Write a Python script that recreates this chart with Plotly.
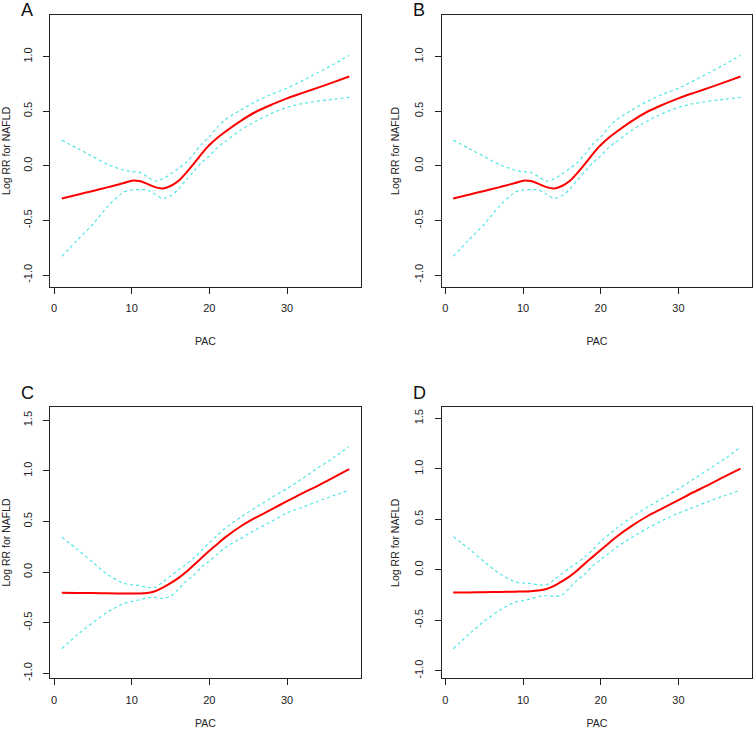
import plotly.graph_objects as go

# ---------------- data ----------------
pac = [1, 3, 5, 7, 9, 10, 11, 12, 13, 14, 15, 16, 17, 18, 19, 20, 21, 22, 24, 26, 28, 30, 32, 34, 36, 38]

# Panel A (and B, identical)
fit_a = [-0.30, -0.265, -0.23, -0.195, -0.158, -0.136, -0.14, -0.165, -0.195, -0.207, -0.185, -0.14, -0.065, 0.02,
         0.11, 0.19, 0.255, 0.31, 0.41, 0.495, 0.56, 0.618, 0.668, 0.716, 0.766, 0.818]
upr_a = [0.235, 0.16, 0.085, 0.01, -0.04, -0.055, -0.06, -0.10, -0.14, -0.12, -0.075, -0.025, 0.03, 0.11,
         0.20, 0.265, 0.35, 0.42, 0.51, 0.59, 0.655, 0.71, 0.78, 0.855, 0.93, 1.012]
lwr_a = [-0.83, -0.68, -0.535, -0.365, -0.24, -0.222, -0.218, -0.222, -0.26, -0.298, -0.275, -0.215, -0.13, -0.05,
         0.03, 0.09, 0.165, 0.22, 0.325, 0.41, 0.48, 0.535, 0.57, 0.592, 0.61, 0.627]

fit_b = list(fit_a)
upr_b = list(upr_a)
lwr_b = list(lwr_a)

# Panel C
fit_c = [-0.205, -0.206, -0.208, -0.21, -0.212, -0.213, -0.212, -0.207, -0.19, -0.155, -0.11, -0.06, 0.0, 0.07,
         0.14, 0.21, 0.275, 0.34, 0.45, 0.54, 0.62, 0.70, 0.78, 0.855, 0.935, 1.017]
upr_c = [0.345, 0.225, 0.095, -0.03, -0.112, -0.125, -0.132, -0.152, -0.15, -0.10, -0.04, 0.02, 0.075, 0.14,
         0.215, 0.29, 0.36, 0.43, 0.54, 0.64, 0.735, 0.825, 0.925, 1.03, 1.13, 1.242]
lwr_c = [-0.758, -0.62, -0.50, -0.39, -0.31, -0.29, -0.275, -0.255, -0.25, -0.26, -0.24, -0.17, -0.09, -0.03,
         0.05, 0.11, 0.175, 0.24, 0.33, 0.42, 0.50, 0.585, 0.64, 0.70, 0.755, 0.81]

# Panel D
fit_d = [-0.226, -0.224, -0.222, -0.22, -0.217, -0.215, -0.212, -0.205, -0.19, -0.16, -0.115, -0.065, -0.005, 0.065,
         0.13, 0.195, 0.26, 0.325, 0.435, 0.53, 0.61, 0.69, 0.77, 0.845, 0.925, 1.002]
upr_d = [0.328, 0.21, 0.08, -0.04, -0.12, -0.13, -0.138, -0.148, -0.15, -0.10, -0.04, 0.02, 0.07, 0.13,
         0.20, 0.28, 0.345, 0.41, 0.52, 0.62, 0.71, 0.80, 0.90, 1.0, 1.10, 1.214]
lwr_d = [-0.784, -0.64, -0.51, -0.40, -0.32, -0.305, -0.288, -0.265, -0.255, -0.265, -0.25, -0.18, -0.10, -0.04,
         0.04, 0.10, 0.16, 0.22, 0.32, 0.41, 0.49, 0.56, 0.62, 0.68, 0.735, 0.79]

panel_labels = ["A", "B", "C", "D"]
x_title = "PAC"
y_title = "Log RR for NAFLD"

x_ticks = [0, 10, 20, 30]
x_ticktext = ["0", "10", "20", "30"]
y_ticks_top = [-1.0, -0.5, 0.0, 0.5, 1.0]
y_ticktext_top = ["-1.0", "-0.5", "0.0", "0.5", "1.0"]
y_ticks_bot = [-1.0, -0.5, 0.0, 0.5, 1.0, 1.5]
y_ticktext_bot = ["-1.0", "-0.5", "0.0", "0.5", "1.0", "1.5"]

# ---------------- figure ----------------
W, H = 753, 729
RED = "#FF0000"
CYAN = "#4FE6E4"
INK = "#222222"
FONT = "Liberation Sans, Arial, sans-serif"
FS = 10.5

panels = [
    dict(fit=fit_a, upr=upr_a, lwr=lwr_a, xd=[50.3, 360.7], yd=[15, 286.7], yr=[-1.107, 1.381],
         yt=y_ticks_top, ytt=y_ticktext_top, ly=9.5),
    dict(fit=fit_b, upr=upr_b, lwr=lwr_b, xd=[441.7, 752.0], yd=[15, 286.7], yr=[-1.107, 1.381],
         yt=y_ticks_top, ytt=y_ticktext_top, ly=9.5),
    dict(fit=fit_c, upr=upr_c, lwr=lwr_c, xd=[50.3, 360.7], yd=[406.7, 678.3], yr=[-1.05, 1.634],
         yt=y_ticks_bot, ytt=y_ticktext_bot, ly=392.5),
    dict(fit=fit_d, upr=upr_d, lwr=lwr_d, xd=[441.7, 752.0], yd=[407.3, 678.3], yr=[-1.075, 1.609],
         yt=y_ticks_bot, ytt=y_ticktext_bot, ly=392.5),
]

fig = go.Figure()
layout = dict(
    width=W, height=H,
    margin=dict(l=0, r=0, t=0, b=0),
    paper_bgcolor="white", plot_bgcolor="white",
    showlegend=False,
    font=dict(family=FONT, color=INK, size=FS),
)
annotations = []

for i, p in enumerate(panels):
    n = "" if i == 0 else str(i + 1)
    xa, ya = "x" + n, "y" + n
    for ys, col, w, dash in [(p["upr"], CYAN, 1.2, "dot"), (p["lwr"], CYAN, 1.2, "dot"),
                             (p["fit"], RED, 2, "solid")]:
        fig.add_trace(go.Scatter(x=pac, y=ys, mode="lines", xaxis=xa, yaxis=ya,
                                 line=dict(color=col, width=w, dash=dash, shape="spline", smoothing=0.8),
                                 hoverinfo="skip"))
    xd = [p["xd"][0] / W, p["xd"][1] / W]
    yd = [1 - p["yd"][1] / H, 1 - p["yd"][0] / H]
    layout["xaxis" + n] = dict(
        domain=xd, anchor=ya, range=[-0.48, 39.48], showgrid=False, zeroline=False,
        showline=True, mirror=True, linecolor=INK, linewidth=1,
        ticks="outside", ticklen=6, tickcolor=INK, tickvals=x_ticks, ticktext=x_ticktext,
        ticklabelstandoff=5,
        tickfont=dict(size=FS + 0.5, family=FONT, color=INK),
        title=dict(text=x_title, standoff=24, font=dict(size=FS, family=FONT, color=INK)),
        automargin=False,
    )
    layout["yaxis" + n] = dict(
        domain=yd, anchor=xa, range=p["yr"], showgrid=False, zeroline=False,
        showline=True, mirror=True, linecolor=INK, linewidth=1,
        ticks="outside", ticklen=6, tickcolor=INK, tickvals=p["yt"], ticktext=p["ytt"],
        tickangle=-90, ticklabelstandoff=7,
        tickfont=dict(size=FS + 0.5, family=FONT, color=INK),
        title=dict(text=y_title, standoff=11, font=dict(size=FS, family=FONT, color=INK)),
        automargin=False,
    )
    annotations.append(dict(
        text=panel_labels[i], xref="paper", yref="paper",
        x=(p["xd"][0] - 31) / W, y=1 - p["ly"] / H,
        xanchor="left", yanchor="middle", showarrow=False,
        font=dict(size=18, family=FONT, color="#111111"),
    ))

layout["annotations"] = annotations
fig.update_layout(**layout)
fig.write_html("out.html", config={"displayModeBar": False},
               post_script="document.body.style.margin='0';")
